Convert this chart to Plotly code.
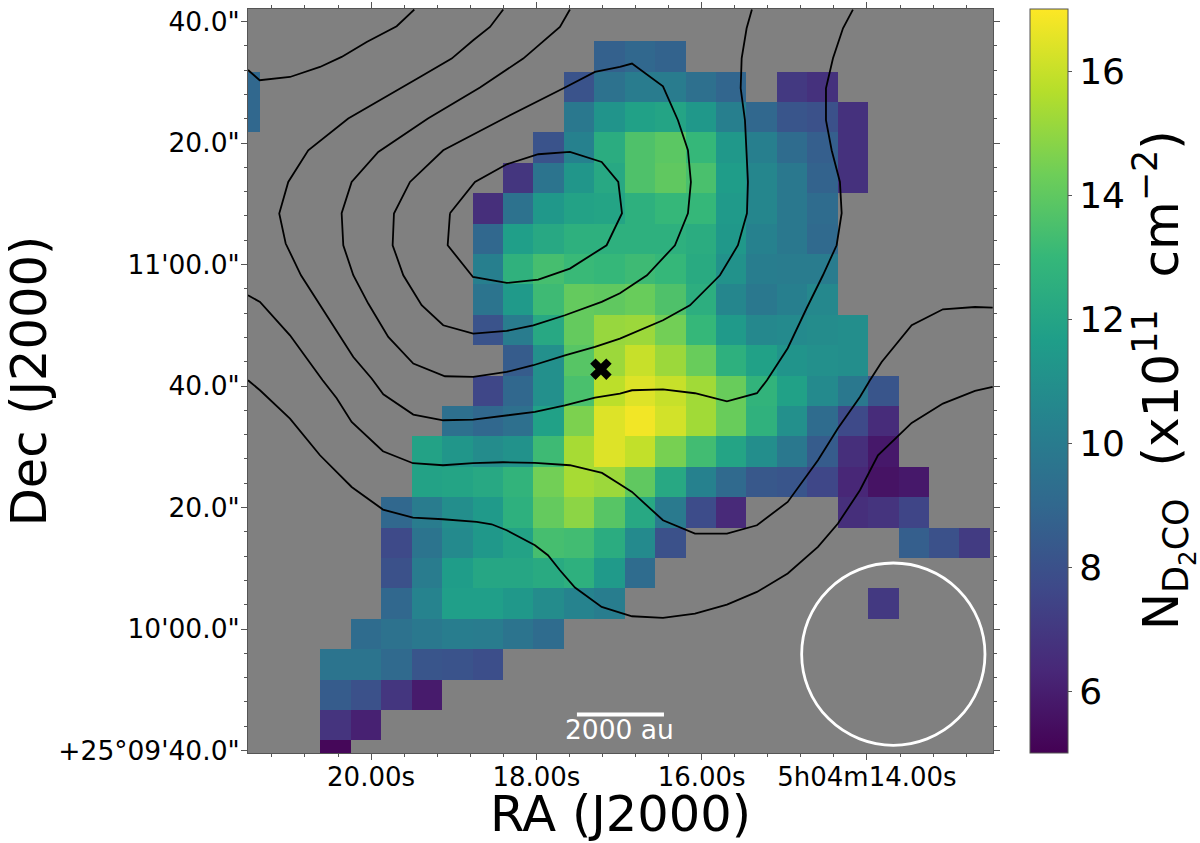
import plotly.graph_objects as go

N = None
z_rows = [
    [N]*26,
    [N]*12 + [8.7, 9.0, 8.8] + [N]*11,
    [9.0] + [N]*10 + [8.1, 9.5, 10.0, 10.0, 9.4, 8.9, N, 7.0, 6.7] + [N]*6,
    [9.0] + [N]*10 + [9.8, 11.2, 11.8, 12.0, 11.4, 10.2, 9.0, 8.2, 8.0, 6.7] + [N]*5,
    [N]*10 + [8.1, 10.3, 12.4, 13.6, 13.9, 13.0, 11.4, 10.2, 9.2, 8.6, 6.7] + [N]*5,
    [N]*9 + [6.9, 9.6, 11.3, 12.2, 13.6, 14.0, 13.5, 11.6, 10.5, 9.8, 8.8, 6.7] + [N]*5,
    [N]*8 + [6.6, 9.5, 11.4, 11.9, 12.0, 12.6, 13.0, 13.0, 11.5, 10.5, 9.8, 9.2] + [N]*6,
    [N]*8 + [9.0, 11.7, 12.2, 12.6, 12.6, 12.6, 12.6, 12.4, 11.4, 10.3, 9.8, 9.1] + [N]*6,
    [N]*8 + [10.2, 12.7, 13.4, 13.1, 13.0, 13.2, 13.0, 12.3, 11.1, 10.1, 10.0, 10.0] + [N]*6,
    [N]*8 + [9.6, 11.5, 13.2, 14.1, 14.0, 14.2, 13.6, 12.5, 10.5, 9.8, 10.2, 10.6] + [N]*6,
    [N]*8 + [8.1, 10.0, 12.2, 14.1, 15.1, 15.2, 14.4, 13.0, 11.5, 10.6, 10.7, 10.8, 10.9] + [N]*5,
    [N]*9 + [8.5, 11.0, 13.8, 15.2, 16.0, 15.2, 14.2, 12.6, 11.8, 11.2, 11.0, 10.9] + [N]*5,
    [N]*8 + [7.6, 9.0, 11.0, 13.5, 15.8, 16.4, 16.0, 15.3, 14.2, 12.8, 11.8, 10.7, 9.8, 8.2] + [N]*4,
    [N]*7 + [9.4, 9.0, 9.4, 11.8, 14.6, 16.4, 16.8, 16.2, 15.3, 14.2, 12.7, 11.0, 9.2, 7.7, 6.5] + [N]*4,
    [N]*6 + [11.9, 11.3, 10.8, 11.1, 13.2, 15.4, 16.4, 15.9, 14.5, 13.3, 12.0, 10.9, 9.8, 8.5, 6.6, 5.8] + [N]*4,
    [N]*6 + [11.9, 12.0, 12.2, 12.8, 14.4, 15.4, 15.2, 14.0, 12.2, 10.3, 9.1, 8.3, 8.2, 7.6, 6.3, 5.6, 5.8] + [N]*3,
    [N]*5 + [9.0, 10.0, 10.9, 11.5, 12.6, 14.1, 14.9, 13.8, 12.2, 9.9, 7.8, 6.4, N, N, N, 6.6, 6.8, 7.5] + [N]*3,
    [N]*5 + [7.7, 9.6, 10.7, 11.4, 11.9, 13.4, 13.3, 12.4, 10.7, 8.0] + [N]*7 + [8.6, 8.0, 7.1, N],
    [N]*5 + [8.0, 10.0, 11.6, 12.1, 12.1, 12.3, 12.6, 11.5, 9.2] + [N]*12,
    [N]*5 + [9.0, 10.4, 11.7, 11.7, 11.4, 10.8, 10.4, 10.1] + [N]*8 + [7.0] + [N]*4,
    [N]*4 + [9.2, 9.5, 9.8, 10.1, 10.0, 9.6, 9.2] + [N]*15,
    [N]*3 + [9.6, 9.6, 9.1, 8.2, 8.1, 7.9] + [N]*17,
    [N]*3 + [8.5, 8.0, 6.9, 5.9] + [N]*19,
    [N]*3 + [6.8, 6.1] + [N]*21,
    [N]*3 + [5.2] + [N]*22,
]

contour_a_ra = [21.489, 21.348, 20.981, 20.618, 20.356, 20.053, 19.690, 19.477]
contour_a_dec = [152.04, 150.34, 150.88, 152.53, 154.18, 156.65, 159.23, 161.98]
contour_b_ra = [18.401, 18.561, 18.764, 19.025, 19.408, 19.852, 20.276, 20.760, 21.002, 21.111, 21.033, 20.848, 20.578, 20.215, 19.993, 19.852, 19.489, 19.127, 18.764, 18.401, 18.017, 17.654, 17.291, 16.989, 16.843, 16.468, 16.081, 15.694, 15.331, 15.210, 14.959, 14.730, 14.533, 14.367, 14.306, 14.327, 14.427, 14.496, 14.496, 14.411, 14.290, 14.170]
contour_b_dec = [161.98, 159.11, 156.93, 153.91, 150.88, 147.33, 144.04, 138.82, 133.60, 128.40, 123.46, 118.24, 112.48, 104.79, 101.24, 98.65, 95.31, 94.37, 94.49, 95.08, 95.74, 96.84, 98.11, 98.77, 99.31, 99.47, 98.82, 97.50, 98.82, 100.96, 106.23, 112.81, 118.24, 123.18, 128.45, 133.60, 138.82, 143.76, 149.02, 153.96, 158.90, 161.98]
contour_c_ra = [17.594, 17.715, 18.159, 18.682, 19.312, 19.913, 20.235, 20.356, 20.336, 20.215, 20.034, 19.792, 19.489, 19.106, 18.764, 18.359, 18.037, 17.654, 17.291, 16.989, 16.468, 16.142, 15.779, 15.561, 15.452, 15.440, 15.476, 15.528, 15.516, 15.456, 15.392]
contour_c_dec = [161.98, 159.11, 153.91, 149.14, 144.04, 138.54, 133.60, 128.45, 123.18, 118.24, 113.58, 108.08, 103.71, 101.62, 101.50, 102.32, 103.43, 105.07, 106.44, 107.82, 110.83, 113.30, 118.24, 123.18, 128.45, 133.60, 143.76, 149.02, 153.96, 158.90, 161.98]
contour_d_ra = [16.989, 17.291, 17.654, 18.359, 19.127, 19.529, 19.723, 19.739, 19.610, 19.388, 19.127, 18.764, 18.359, 18.037, 17.654, 17.210, 16.989, 16.662, 16.323, 16.166, 16.130, 16.166, 16.287, 16.468, 16.843, 16.989]
contour_d_dec = [152.53, 151.71, 149.14, 144.30, 138.82, 133.60, 128.40, 123.18, 118.24, 113.30, 110.01, 108.64, 109.07, 110.01, 111.66, 113.85, 115.28, 118.24, 123.18, 128.45, 133.60, 138.82, 143.76, 149.35, 153.09, 152.53]
contour_e_ra = [19.045, 19.073, 18.767, 18.359, 17.977, 17.594, 17.150, 16.964, 17.009, 17.210, 17.594, 17.977, 18.359, 18.743, 19.045]
contour_e_dec = [128.45, 123.18, 117.96, 116.98, 117.53, 119.34, 123.18, 128.45, 133.60, 136.89, 138.54, 138.16, 136.51, 133.60, 128.45]
contour_f_ra = [21.489, 21.344, 20.981, 20.586, 20.416, 20.235, 19.856, 19.493, 19.130, 18.767, 18.404, 18.017, 17.594, 17.206, 16.989, 16.843, 16.468, 16.081, 15.694, 15.331, 14.959, 14.593, 14.351, 14.085, 13.964, 13.822, 13.459, 13.081, 12.693, 12.479]
contour_f_dec = [114.95, 113.85, 108.36, 100.96, 97.99, 94.09, 89.27, 87.30, 86.97, 87.30, 87.46, 87.35, 86.97, 85.70, 83.84, 82.57, 77.91, 75.72, 75.72, 77.09, 80.93, 87.79, 93.06, 98.21, 100.96, 103.97, 110.01, 112.64, 113.02, 112.92]
contour_g_ra = [21.489, 21.344, 20.981, 20.618, 20.235, 19.856, 19.493, 19.130, 18.722, 18.541, 18.359, 18.017, 17.860, 17.715, 17.533, 17.210, 16.989, 16.843, 16.468, 16.081, 15.694, 15.331, 14.959, 14.593, 14.351, 14.085, 13.867, 13.459, 13.081, 12.693, 12.479]
contour_g_dec = [100.96, 99.31, 94.65, 88.61, 83.39, 79.67, 78.36, 78.08, 77.63, 77.25, 76.27, 73.80, 72.15, 69.68, 66.83, 63.64, 62.72, 62.11, 61.83, 62.55, 64.03, 66.11, 69.14, 73.52, 77.37, 82.85, 88.61, 93.93, 97.12, 99.20, 99.85]

contours = [
    (contour_a_ra, contour_a_dec), (contour_b_ra, contour_b_dec), (contour_c_ra, contour_c_dec),
    (contour_d_ra, contour_d_dec), (contour_e_ra, contour_e_dec), (contour_f_ra, contour_f_dec),
    (contour_g_ra, contour_g_dec),
]

source_ra = [17.219]
source_dec = [102.77]

ra_ticks = [20, 18, 16, 14]
ra_labels = ["20.00s", "18.00s", "16.00s", "5h04m14.00s"]
ra_minor = [21.2, 20.8, 20.4, 19.6, 19.2, 18.8, 18.4, 17.6, 17.2, 16.8, 16.4, 15.6, 15.2, 14.8, 14.4, 13.6, 13.2, 12.8]
dec_ticks = [40, 60, 80, 100, 120, 140, 160]
dec_labels = ['+25°09\'40.0"', '10\'00.0"', '20.0"', '40.0"', '11\'00.0"', '20.0"', '40.0"']
dec_minor = [44, 48, 52, 56, 64, 68, 72, 76, 84, 88, 92, 96, 104, 108, 112, 116, 124, 128, 132, 136, 144, 148, 152, 156]
cbar_ticks = [6, 8, 10, 12, 14, 16]

FONT = "DejaVu Sans"
fig = go.Figure()
fig.add_trace(go.Heatmap(
    z=z_rows, x0=21.532, dx=-0.3682, y0=159.26, dy=-5.004,
    colorscale="Viridis", zmin=5, zmax=17, hoverongaps=False,
    colorbar=dict(
        xref="container", x=1030/1200, xanchor="left", thickness=38,
        yref="paper", y=0, yanchor="bottom", len=1, lenmode="fraction",
        ypad=0, xpad=0, outlinecolor="#555555", outlinewidth=1,
        tickmode="array", tickvals=cbar_ticks, ticks="outside", ticklen=4,
        tickcolor="#555555", tickfont=dict(family=FONT, size=36, color="black"),
    ),
))
for ra, dec in contours:
    fig.add_trace(go.Scatter(x=ra, y=dec, mode="lines", line=dict(color="black", width=1.8), showlegend=False))
fig.add_trace(go.Scatter(x=source_ra, y=source_dec, mode="markers",
                         marker=dict(symbol="x", size=19, color="black"), showlegend=False))

axis_common = dict(showgrid=False, zeroline=False, showline=True, linecolor="#555555", linewidth=1,
                   mirror="ticks", ticks="outside", ticklen=6, tickcolor="#555555", tickwidth=1,
                   automargin=False)
fig.update_xaxes(range=[21.489, 12.475], tickmode="array", tickvals=ra_ticks, ticktext=ra_labels,
                 tickfont=dict(family=FONT, size=26, color="black"), ticklabelstandoff=-5,
                 title=dict(text="RA (J2000)", font=dict(family=FONT, size=49.5, color="black"), standoff=0),
                 minor=dict(tickmode="array", tickvals=ra_minor, ticks="outside", ticklen=3, tickcolor="#555555"),
                 **axis_common)
fig.update_yaxes(range=[39.6, 162.07], tickmode="array", tickvals=dec_ticks, ticktext=dec_labels,
                 tickfont=dict(family=FONT, size=26.5, color="black"), ticklabelstandoff=-4,
                 title=dict(text="Dec (J2000)", font=dict(family=FONT, size=49.5, color="black"), standoff=10),
                 minor=dict(tickmode="array", tickvals=dec_minor, ticks="outside", ticklen=3, tickcolor="#555555"),
                 **axis_common)
fig.add_shape(type="line", x0=17.509, x1=16.456, y0=45.93, y1=45.93, line=dict(color="white", width=4))
fig.add_shape(type="circle", x0=14.790, x1=12.572, y0=40.87, y1=70.88, line=dict(color="white", width=2.8))
fig.add_annotation(x=16.99, y=43.5, text="2000 au", showarrow=False, font=dict(family=FONT, size=26.5, color="white"))
fig.add_annotation(xref="paper", yref="paper", x=(1163-248)/745, y=(752.7-380)/744, xanchor="center", yanchor="middle",
                   textangle=-90, showarrow=False,
                   text="N<sub>D<sub>2</sub>CO</sub>\u00a0 (x10<sup>11</sup>\u00a0 cm<sup>−2</sup>)",
                   font=dict(family=FONT, size=50, color="black"))
fig.update_layout(width=1200, height=843, autosize=False, paper_bgcolor="white", plot_bgcolor="#808080",
                  margin=dict(l=248, r=207, t=9, b=90), showlegend=False)
fig.write_html("out.html", post_script="document.body.style.margin='0';", config={"displayModeBar": False})
